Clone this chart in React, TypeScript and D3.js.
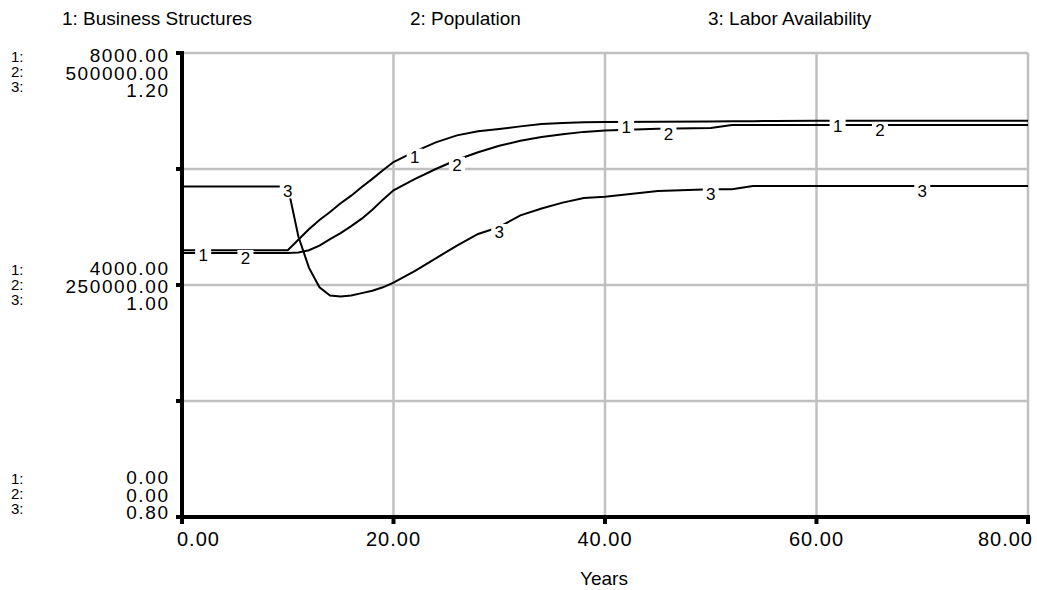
import React from "react";
import * as d3 from "d3";

const years = [0, 10, 11, 12, 13, 14, 15, 16, 17, 18, 19, 20, 22, 24, 26, 28, 30, 32, 34, 36, 38, 40, 45, 50, 52, 54, 56, 60, 70, 80];
const business = [4600, 4600, 4780, 4960, 5120, 5260, 5410, 5540, 5690, 5830, 5980, 6120, 6300, 6460, 6580, 6650, 6690, 6735, 6775, 6795, 6805, 6810, 6815, 6820, 6822, 6825, 6828, 6830, 6830, 6830];
const population = [284500, 284500, 285000, 287500, 292500, 299500, 306000, 313500, 321500, 331000, 342000, 352000, 364000, 375000, 385000, 393000, 400000, 405500, 409500, 412500, 415000, 416500, 418500, 419200, 422400, 422400, 422400, 422500, 422500, 422500];
const labor = [1.085, 1.085, 1.042, 1.015, 0.998, 0.991, 0.99, 0.991, 0.993, 0.995, 0.998, 1.002, 1.012, 1.023, 1.034, 1.044, 1.05, 1.06, 1.066, 1.071, 1.075, 1.076, 1.081, 1.0826, 1.0826, 1.0853, 1.0853, 1.0853, 1.0853, 1.0853];

const seriesNames = ["1: Business Structures", "2: Population", "3: Labor Availability"];
const seriesIds = ["1", "2", "3"];
const labelOffsets = [2, 6, 10];
const xTicks = [0, 20, 40, 60, 80];
const xTickLabels = ["0.00", "20.00", "40.00", "60.00", "80.00"];
const yTopLabels = ["8000.00", "500000.00", "1.20"];
const yMidLabels = ["4000.00", "250000.00", "1.00"];
const yBotLabels = ["0.00", "0.00", "0.80"];

const W = 1037, H = 590;
const L = 182, R = 1028, T = 53, B = 517;
const FONT = "'Liberation Sans', Arial, sans-serif";

export default function App() {
  const x = d3.scaleLinear().domain([0, 80]).range([L, R]);
  const ys = [
    d3.scaleLinear().domain([0, 8000]).range([B, T]),
    d3.scaleLinear().domain([0, 500000]).range([B, T]),
    d3.scaleLinear().domain([0.8, 1.2]).range([B, T]),
  ];
  const data = [business, population, labor];
  const gridY = d3.range(5).map((i) => T + ((B - T) * i) / 4);

  const valAt = (arr: number[], t: number) => {
    const i = d3.bisectRight(years, t) - 1;
    if (i >= years.length - 1) return arr[arr.length - 1];
    const f = (t - years[i]) / (years[i + 1] - years[i]);
    return arr[i] + f * (arr[i + 1] - arr[i]);
  };

  const labels: { x: number; y: number; id: string }[] = [];
  data.forEach((arr, s) => {
    for (let t = labelOffsets[s]; t < 80; t += 20) {
      labels.push({ x: x(t), y: ys[s](valAt(arr, t)), id: seriesIds[s] });
    }
  });

  const groups = [
    { labels: yTopLabels, base: T + 9 },
    { labels: yMidLabels, base: ys[0](4000) - 10 },
    { labels: yBotLabels, base: B - 33 },
  ];
  const LS = 1.6;

  return (
    <div style={{ position: "absolute", left: 0, top: 0 }}>
      <svg width={W} height={H} style={{ display: "block", background: "#fff" }} fontFamily={FONT}>
        <rect width={W} height={H} fill="#fff" />
        {/* grid */}
        {gridY.slice(0, 4).map((gy, i) => (
          <line key={"gy" + i} x1={L} x2={R} y1={gy} y2={gy} stroke="#c0c0c0" strokeWidth={2.5} />
        ))}
        {xTicks.slice(1).map((t, i) => (
          <line key={"gx" + i} x1={x(t)} x2={x(t)} y1={T} y2={B} stroke="#c0c0c0" strokeWidth={2.5} />
        ))}
        {/* lines */}
        {data.map((arr, s) => {
          const line = d3
            .line<number>()
            .x((_, i) => x(years[i]))
            .y((v) => ys[s](v));
          return <path key={"l" + s} d={line(arr) || ""} fill="none" stroke="#000" strokeWidth={2} />;
        })}
        {/* line labels */}
        {labels.map((lb, i) => (
          <g key={"lb" + i}>
            <rect x={lb.x - 8} y={lb.y - 3} width={16} height={15} fill="#fff" />
            <text x={lb.x} y={lb.y + 11} textAnchor="middle" fontSize={17} fill="#000">
              {lb.id}
            </text>
          </g>
        ))}
        {/* axes */}
        <line x1={L} x2={L} y1={T - 2} y2={B + 2} stroke="#000" strokeWidth={4} />
        <line x1={L - 2} x2={R + 2} y1={B} y2={B} stroke="#000" strokeWidth={4} />
        {gridY.map((gy, i) => (
          <line key={"yt" + i} x1={L - 6} x2={L} y1={gy} y2={gy} stroke="#000" strokeWidth={4} />
        ))}
        {xTicks.map((t, i) => (
          <line key={"xt" + i} x1={x(t)} x2={x(t)} y1={B} y2={B + 7} stroke="#000" strokeWidth={4} />
        ))}
        {/* y labels */}
        {groups.map((g, gi) => (
          <g key={"g" + gi}>
            {g.labels.map((lab, i) => (
              <text
                key={"v" + i}
                x={168 + LS}
                y={g.base + i * 17.5}
                textAnchor="end"
                fontSize={19}
                letterSpacing={LS}
                fill="#000"
              >
                {lab}
              </text>
            ))}
            {seriesIds.map((id, i) => (
              <text key={"s" + i} x={11} y={g.base + i * 15} fontSize={15} fill="#000">
                {id + ":"}
              </text>
            ))}
          </g>
        ))}
        {/* x labels */}
        {xTicks.map((t, i) => (
          <text
            key={"xl" + i}
            x={i === 0 ? x(t) - 5 : i === xTicks.length - 1 ? x(t) + 4 + 1 : x(t)}
            y={546}
            textAnchor={i === 0 ? "start" : i === xTicks.length - 1 ? "end" : "middle"}
            fontSize={20}
            letterSpacing={1}
            fill="#000"
          >
            {xTickLabels[i]}
          </text>
        ))}
        <text x={604} y={585} textAnchor="middle" fontSize={19} fill="#000">
          Years
        </text>
        {/* legend */}
        {seriesNames.map((n, i) => (
          <text key={"n" + i} x={[62, 410, 708][i]} y={25} fontSize={19} fill="#000">
            {n}
          </text>
        ))}
      </svg>
    </div>
  );
}
